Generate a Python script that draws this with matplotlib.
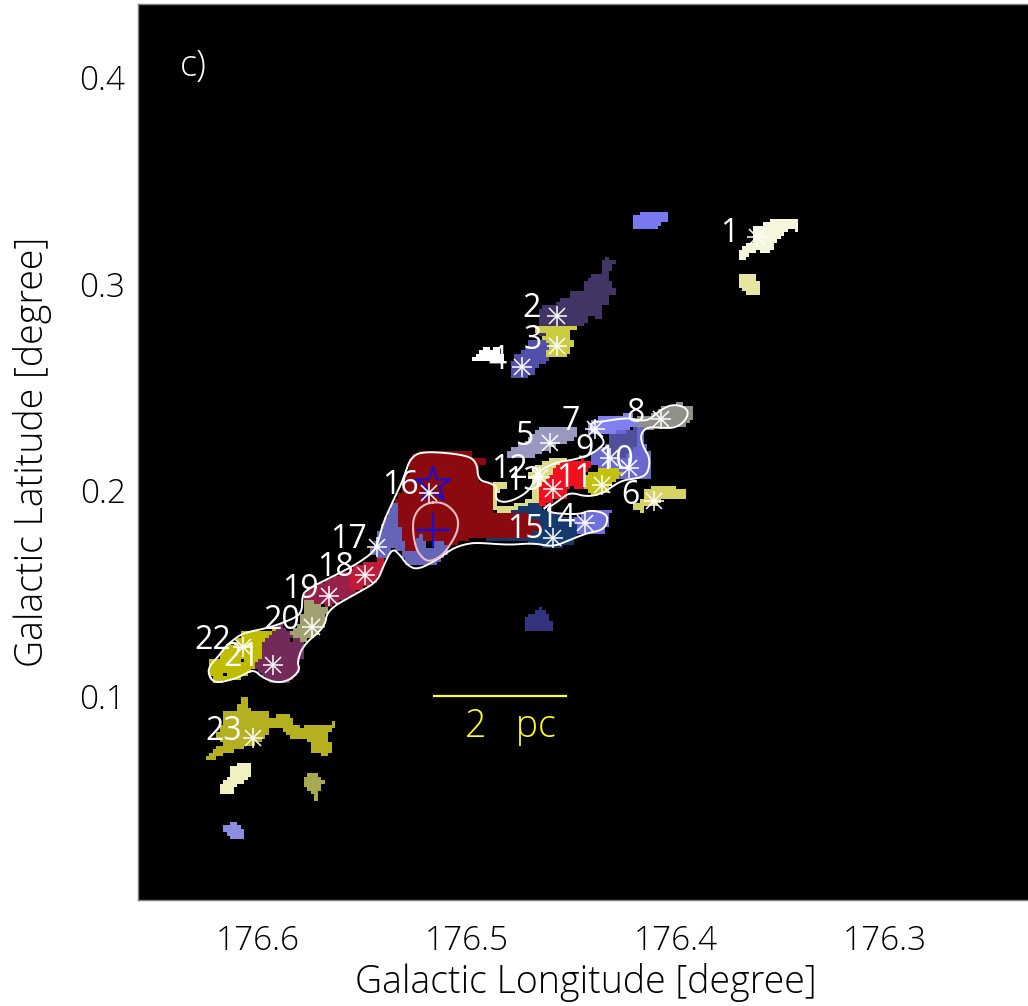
import numpy as np
import matplotlib
matplotlib.use('Agg')
import matplotlib.pyplot as plt
from matplotlib.path import Path

plt.rcParams['font.family'] = ['Open Sans', 'DejaVu Sans']

# ---------- clump outlines, galactic lon / lat in degree ----------
lon_top = [176.4199, 176.4161, 176.4036, 176.4036, 176.4084, 176.4084, 176.4199]
lat_top = [0.3324, 0.3343, 0.3343, 0.3295, 0.3280, 0.3261, 0.3261]

lon_cream1 = [176.3706, 176.3706, 176.3639, 176.3639, 176.3619, 176.3557, 176.3519, 176.3418, 176.3404, 176.3404,
              176.3423, 176.3423, 176.3461, 176.3509, 176.3538, 176.3571, 176.3605, 176.3658, 176.3658]
lat_cream1 = [0.3111, 0.3154, 0.3198, 0.3256, 0.3276, 0.3295, 0.3314, 0.3319, 0.3329, 0.3246,
              0.3246, 0.3261, 0.3256, 0.3213, 0.3159, 0.3145, 0.3159, 0.3130, 0.3111]

lon_pale1 = [176.3706, 176.3619, 176.3619, 176.3605, 176.3605, 176.3672, 176.3672, 176.3686, 176.3706]
lat_pale1 = [0.3043, 0.3043, 0.3009, 0.3004, 0.2941, 0.2941, 0.2955, 0.2975, 0.2980]

lon_c2 = [176.4664, 176.4649, 176.4616, 176.4582, 176.4549, 176.4501, 176.4501, 176.4434, 176.4434, 176.4400,
          176.4367, 176.4347, 176.4347, 176.4328, 176.4285, 176.4300, 176.4300, 176.4323, 176.4323, 176.4300,
          176.4300, 176.4285, 176.4285, 176.4323, 176.4328, 176.4362, 176.4347, 176.4347, 176.4381, 176.4386,
          176.4419, 176.4419, 176.4448, 176.4568, 176.4616, 176.4649]
lat_c2 = [0.2805, 0.2878, 0.2892, 0.2892, 0.2926, 0.2926, 0.2960, 0.2960, 0.3009, 0.3043,
          0.3043, 0.3067, 0.3111, 0.3125, 0.3106, 0.3096, 0.3062, 0.3057, 0.3009, 0.3004,
          0.2980, 0.2975, 0.2941, 0.2936, 0.2897, 0.2883, 0.2858, 0.2825, 0.2825, 0.2844,
          0.2839, 0.2825, 0.2791, 0.2791, 0.2752, 0.2742]

lon_c3 = [176.4664, 176.4472, 176.4472, 176.4501, 176.4501, 176.4482, 176.4482, 176.4501, 176.4501, 176.4520,
          176.4616, 176.4616, 176.4592, 176.4616, 176.4649, 176.4616, 176.4664]
lat_c3 = [0.2791, 0.2791, 0.2776, 0.2766, 0.2723, 0.2718, 0.2694, 0.2689, 0.2664, 0.2645,
          0.2645, 0.2664, 0.2689, 0.2718, 0.2742, 0.2752, 0.2752]

lon_c4 = [176.4649, 176.4616, 176.4592, 176.4616, 176.4616, 176.4597, 176.4664, 176.4664, 176.4731, 176.4779,
          176.4798, 176.4798, 176.4764, 176.4731, 176.4697]
lat_c4 = [0.2723, 0.2718, 0.2689, 0.2664, 0.2640, 0.2631, 0.2592, 0.2572, 0.2538, 0.2538,
          0.2567, 0.2592, 0.2655, 0.2669, 0.2718]

lon_white = [176.4980, 176.4946, 176.4927, 176.4898, 176.4879, 176.4850, 176.4831, 176.4831, 176.4980]
lat_white = [0.2640, 0.2655, 0.2694, 0.2694, 0.2674, 0.2694, 0.2655, 0.2626, 0.2626]

lon_c5 = [176.4812, 176.4731, 176.4649, 176.4482, 176.4467, 176.4491, 176.4553, 176.4640, 176.4683, 176.4807]
lat_c5 = [0.2184, 0.2228, 0.2301, 0.2306, 0.2281, 0.2243, 0.2218, 0.2184, 0.2146, 0.2155]

lon_c6 = [176.4199, 176.4156, 176.4156, 176.4113, 176.4017, 176.3988, 176.3950, 176.3950, 176.4074, 176.4089,
          176.4151, 176.4161, 176.4199]
lat_c6 = [0.1927, 0.1952, 0.1985, 0.2015, 0.2015, 0.2000, 0.2005, 0.1956, 0.1942, 0.1918,
          0.1918, 0.1888, 0.1913]

lon_c8 = [176.4194, 176.4185, 176.4122, 176.4060, 176.4017, 176.3969, 176.3969, 176.3916, 176.3916, 176.3940,
          176.4012, 176.4089, 176.4137, 176.4185]
lat_c8 = [0.2325, 0.2349, 0.2364, 0.2398, 0.2412, 0.2422, 0.2403, 0.2403, 0.2354, 0.2315,
          0.2301, 0.2306, 0.2281, 0.2281]

lon_c7 = [176.4424, 176.4362, 176.4252, 176.4204, 176.4185, 176.4290, 176.4323, 176.4362, 176.4410]
lat_c7 = [0.2325, 0.2349, 0.2364, 0.2369, 0.2306, 0.2281, 0.2267, 0.2276, 0.2267]

lon_c10 = [176.4323, 176.4290, 176.4156, 176.4156, 176.4118, 176.4118, 176.4280, 176.4410, 176.4400, 176.4323]
lat_c10 = [0.2267, 0.2281, 0.2306, 0.2228, 0.2184, 0.2058, 0.2058, 0.2131, 0.2179, 0.2218]

lon_c9 = [176.4323, 176.4232, 176.4185, 176.4180, 176.4232, 176.4323, 176.4323]
lat_c9 = [0.2267, 0.2281, 0.2306, 0.2218, 0.2160, 0.2160, 0.2218]

lon_c12 = [176.4879, 176.4802, 176.4802, 176.4850, 176.4855, 176.4793, 176.4697, 176.4668, 176.4711, 176.4802, 176.4865]
lat_c12 = [0.2039, 0.2039, 0.2015, 0.1985, 0.1927, 0.1918, 0.1956, 0.1932, 0.1918, 0.1888, 0.1888]

lon_c13 = [176.4707, 176.4649, 176.4592, 176.4529, 176.4529, 176.4568, 176.4592, 176.4625, 176.4649, 176.4659,
           176.4697, 176.4683, 176.4697]
lat_c13 = [0.2087, 0.2121, 0.2150, 0.2155, 0.2136, 0.2112, 0.2063, 0.2034, 0.1985, 0.1927,
           0.1952, 0.2015, 0.2058]

lon_c11 = [176.4649, 176.4592, 176.4568, 176.4529, 176.4448, 176.4410, 176.4410, 176.4443, 176.4443, 176.4472,
           176.4496, 176.4520, 176.4520, 176.4553, 176.4616, 176.4649, 176.4664]
lat_c11 = [0.2024, 0.2073, 0.2121, 0.2136, 0.2146, 0.2136, 0.2097, 0.2073, 0.2000, 0.2000,
           0.2015, 0.2000, 0.1956, 0.1956, 0.1927, 0.1913, 0.1966]

lon_oliv = [176.4443, 176.4362, 176.4290, 176.4252, 176.4300, 176.4328, 176.4395, 176.4424]
lat_oliv = [0.2073, 0.2097, 0.2107, 0.2082, 0.2034, 0.1985, 0.1971, 0.1985]

lon_c15 = [176.4802, 176.4711, 176.4649, 176.4640, 176.4482, 176.4472, 176.4491, 176.4568, 176.4697, 176.4711,
           176.4913, 176.4913, 176.4697, 176.4697]
lat_c15 = [0.1888, 0.1927, 0.1927, 0.1903, 0.1864, 0.1782, 0.1743, 0.1714, 0.1733, 0.1753,
           0.1753, 0.1767, 0.1791, 0.1840]

lon_c14 = [176.4482, 176.4424, 176.4304, 176.4300, 176.4323, 176.4323, 176.4338, 176.4333, 176.4472]
lat_c14 = [0.1864, 0.1893, 0.1903, 0.1884, 0.1879, 0.1840, 0.1796, 0.1787, 0.1787]

lon_c16 = [176.5272, 176.5210, 176.5018, 176.4985, 176.4975, 176.4913, 176.4913, 176.4946, 176.4946, 176.4879,
           176.4879, 176.4731, 176.4649, 176.4635, 176.4697, 176.4697, 176.4961, 176.5066, 176.5305, 176.5344,
           176.5344, 176.5310, 176.5272]
lat_c16 = [0.2160, 0.2184, 0.2179, 0.2189, 0.2160, 0.2155, 0.2121, 0.2112, 0.2039, 0.2034,
           0.1888, 0.1888, 0.1840, 0.1806, 0.1791, 0.1767, 0.1767, 0.1733, 0.1694, 0.1806,
           0.1937, 0.2015, 0.2112]

lon_c17 = [176.5353, 176.5329, 176.5329, 176.5305, 176.5296, 176.5248, 176.5248, 176.5210, 176.5200, 176.5157,
           176.5128, 176.5095, 176.5095, 176.5143, 176.5281, 176.5320, 176.5358, 176.5382, 176.5464, 176.5416]
lat_c17 = [0.1937, 0.1937, 0.1840, 0.1772, 0.1694, 0.1694, 0.1767, 0.1787, 0.1753, 0.1753,
           0.1748, 0.1733, 0.1694, 0.1641, 0.1627, 0.1694, 0.1719, 0.1661, 0.1685, 0.1806]

lon_c18 = [176.5559, 176.5511, 176.5392, 176.5401, 176.5430, 176.5526, 176.5559]
lat_c18 = [0.1622, 0.1636, 0.1670, 0.1622, 0.1554, 0.1505, 0.1525]

lon_c19 = [176.5775, 176.5737, 176.5559, 176.5559, 176.5526, 176.5641, 176.5669, 176.5784]
lat_c19 = [0.1500, 0.1530, 0.1612, 0.1525, 0.1505, 0.1442, 0.1433, 0.1476]

lon_c20 = [176.5775, 176.5751, 176.5669, 176.5679, 176.5737, 176.5784, 176.5847, 176.5799]
lat_c20 = [0.1467, 0.1467, 0.1428, 0.1336, 0.1287, 0.1258, 0.1297, 0.1355]

lon_c21 = [176.5909, 176.5847, 176.5784, 176.5775, 176.5813, 176.5799, 176.5856, 176.5943, 176.6024, 176.5990,
           176.5990, 176.5943]
lat_c21 = [0.1355, 0.1306, 0.1258, 0.1185, 0.1161, 0.1112, 0.1069, 0.1069, 0.1137, 0.1190,
           0.1258, 0.1306]

lon_c22 = [176.6072, 176.5943, 176.5909, 176.5909, 176.5943, 176.5986, 176.5986, 176.6024, 176.6038, 176.6086,
           176.6168, 176.6216, 176.6240, 176.6240, 176.6192, 176.6158, 176.6120]
lat_c22 = [0.1311, 0.1311, 0.1345, 0.1321, 0.1302, 0.1258, 0.1195, 0.1137, 0.1112, 0.1088,
           0.1069, 0.1069, 0.1112, 0.1176, 0.1185, 0.1239, 0.1239]

lon_c23 = [176.6254, 176.6196, 176.6158, 176.6206, 176.6168, 176.6168, 176.6101, 176.6086, 176.6062, 176.6038,
           176.5957, 176.5957, 176.5909, 176.5909, 176.5847, 176.5837, 176.5789, 176.5760, 176.5665, 176.5641,
           176.5626, 176.5665, 176.5669, 176.5641, 176.5641, 176.5665, 176.5665, 176.5693, 176.5693, 176.5741,
           176.5741, 176.5789, 176.5856, 176.5895, 176.5943, 176.5957, 176.6005, 176.6072, 176.6168, 176.6196]
lat_c23 = [0.0700, 0.0754, 0.0773, 0.0802, 0.0884, 0.0918, 0.0933, 0.0981, 0.0996, 0.0933,
           0.0923, 0.0884, 0.0894, 0.0914, 0.0914, 0.0875, 0.0846, 0.0860, 0.0860, 0.0875,
           0.0850, 0.0826, 0.0778, 0.0763, 0.0729, 0.0729, 0.0705, 0.0705, 0.0729, 0.0729,
           0.0778, 0.0797, 0.0802, 0.0846, 0.0836, 0.0802, 0.0773, 0.0749, 0.0715, 0.0700]

lon_cream2 = [176.6187, 176.6187, 176.6144, 176.6125, 176.6086, 176.6038, 176.6038, 176.6024, 176.6072, 176.6125, 176.6125]
lat_cream2 = [0.0530, 0.0560, 0.0603, 0.0652, 0.0676, 0.0676, 0.0642, 0.0637, 0.0579, 0.0555, 0.0530]

lon_drop = [176.5789, 176.5775, 176.5741, 176.5713, 176.5693, 176.5674, 176.5693, 176.5713, 176.5713, 176.5727,
            176.5741, 176.5765, 176.5789]
lat_drop = [0.0593, 0.0608, 0.0627, 0.0627, 0.0593, 0.0589, 0.0569, 0.0535, 0.0492, 0.0492,
            0.0521, 0.0545, 0.0569]

lon_peri = [176.6172, 176.6139, 176.6139, 176.6105, 176.6105, 176.6072, 176.6072, 176.6139, 176.6139, 176.6172]
lat_peri = [0.0375, 0.0375, 0.0395, 0.0395, 0.0375, 0.0361, 0.0307, 0.0307, 0.0327, 0.0341]

lon_patch = [176.4731, 176.4721, 176.4673, 176.4649, 176.4625, 176.4592, 176.4592]
lat_patch = [0.1321, 0.1379, 0.1408, 0.1437, 0.1408, 0.1360, 0.1321]

# holes in the mask
lon_hole1 = [176.5190, 176.5162, 176.5162, 176.5190]
lat_hole1 = [0.1748, 0.1748, 0.1719, 0.1719]
lon_hole2 = [176.6172, 176.6144, 176.6144, 176.6172]
lat_hole2 = [0.1117, 0.1117, 0.1093, 0.1093]
lon_hole3 = [176.6086, 176.6072, 176.6072, 176.6086]
lat_hole3 = [0.1185, 0.1185, 0.1166, 0.1166]
lon_hole4 = [176.5856, 176.5837, 176.5837, 176.5856]
lat_hole4 = [0.1282, 0.1282, 0.1263, 0.1263]

# ---------- contours ----------
lon_outer = [176.6216, 176.6240, 176.6230, 176.6192, 176.6158, 176.6120, 176.6072, 176.5976, 176.5909, 176.5813,
             176.5789, 176.5789, 176.5775, 176.5559, 176.5478, 176.5440, 176.5425, 176.5401, 176.5358, 176.5305,
             176.5272, 176.5210, 176.4999, 176.4951, 176.4946, 176.4889, 176.4855, 176.4865, 176.4807, 176.4711,
             176.4673, 176.4649, 176.4568, 176.4491, 176.4410, 176.4362, 176.4338, 176.4371, 176.4410, 176.4400,
             176.4362, 176.4280, 176.4218, 176.4137, 176.4074, 176.4012, 176.3945, 176.3940, 176.3993, 176.4074,
             176.4137, 176.4170, 176.4156, 176.4122, 176.4132, 176.4170, 176.4252, 176.4314, 176.4347, 176.4424,
             176.4506, 176.4553, 176.4640, 176.4467, 176.4410, 176.4338, 176.4323, 176.4347, 176.4424, 176.4506,
             176.4587, 176.4683, 176.4793, 176.4922, 176.4985, 176.5066, 176.5143, 176.5238, 176.5286, 176.5320,
             176.5358, 176.5401, 176.5430, 176.5526, 176.5669, 176.5679, 176.5784, 176.5813, 176.5799, 176.5847,
             176.5909, 176.5976, 176.6024, 176.6086, 176.6168]
lat_outer = [0.1069, 0.1112, 0.1151, 0.1190, 0.1239, 0.1272, 0.1306, 0.1326, 0.1345, 0.1384,
             0.1418, 0.1476, 0.1515, 0.1622, 0.1675, 0.1709, 0.1748, 0.1840, 0.1937, 0.2049,
             0.2155, 0.2189, 0.2170, 0.2131, 0.2049, 0.2034, 0.2015, 0.1952, 0.1937, 0.1985,
             0.2049, 0.2097, 0.2136, 0.2146, 0.2170, 0.2204, 0.2233, 0.2276, 0.2291, 0.2330,
             0.2330, 0.2344, 0.2349, 0.2330, 0.2388, 0.2417, 0.2398, 0.2354, 0.2301, 0.2301,
             0.2306, 0.2267, 0.2209, 0.2155, 0.2082, 0.2058, 0.2049, 0.2010, 0.1985, 0.1966,
             0.1990, 0.1952, 0.1893, 0.1879, 0.1903, 0.1888, 0.1854, 0.1806, 0.1791, 0.1758,
             0.1724, 0.1743, 0.1733, 0.1743, 0.1743, 0.1719, 0.1661, 0.1612, 0.1636, 0.1685,
             0.1719, 0.1627, 0.1554, 0.1500, 0.1418, 0.1336, 0.1248, 0.1166, 0.1127, 0.1078,
             0.1064, 0.1088, 0.1132, 0.1093, 0.1069]

lon_inner = [176.5190, 176.5128, 176.5080, 176.5042, 176.5042, 176.5071, 176.5114, 176.5176, 176.5214, 176.5248, 176.5262, 176.5238]
lat_inner = [0.1937, 0.1942, 0.1918, 0.1869, 0.1806, 0.1748, 0.1685, 0.1651, 0.1670, 0.1724, 0.1840, 0.1903]

# ---------- cores and labels ----------
core_id = ['1', '2', '3', '4', '5', '6', '7', '8', '9', '10', '11', '12',
           '13', '14', '15', '16', '17', '18', '19', '20', '21', '22', '23']
core_lon = [176.3610, 176.4568, 176.4568, 176.4735, 176.4601, 176.4103, 176.4386, 176.4070, 176.4314, 176.4223, 176.4352, 176.4649,
            176.4587, 176.4434, 176.4587, 176.5181, 176.5430, 176.5487, 176.5660, 176.5741, 176.5928, 176.6072, 176.6024]
core_lat = [0.3227, 0.2844, 0.2698, 0.2597, 0.2228, 0.1947, 0.2296, 0.2344, 0.2155, 0.2107, 0.2024, 0.2063,
            0.2005, 0.1840, 0.1767, 0.1985, 0.1724, 0.1588, 0.1486, 0.1336, 0.1151, 0.1239, 0.0797]
label_lon = [176.3744, 176.4688, 176.4683, 176.4855, 176.4721, 176.4218, 176.4501, 176.4194, 176.4438, 176.4290, 176.4482, 176.4798,
             176.4731, 176.4568, 176.4721, 176.5320, 176.5569, 176.5631, 176.5799, 176.5885, 176.6077, 176.6216, 176.6163]
label_lat = [0.3242, 0.2878, 0.2723, 0.2626, 0.2257, 0.1971, 0.2330, 0.2373, 0.2194, 0.2141, 0.2058, 0.2097,
             0.2039, 0.1864, 0.1806, 0.2024, 0.1758, 0.1622, 0.1515, 0.1365, 0.1190, 0.1268, 0.0831]

x_ticks = [176.6, 176.5, 176.4, 176.3]
y_ticks = [0.1, 0.2, 0.3, 0.4]

# paint order: later layers cover earlier ones
layers = [
    (lon_top, lat_top, '#7878f0'), (lon_cream1, lat_cream1, '#f6f6dc'), (lon_pale1, lat_pale1, '#e6e6a0'),
    (lon_c2, lat_c2, '#423566'), (lon_c3, lat_c3, '#cccc44'), (lon_c4, lat_c4, '#5050a8'),
    (lon_white, lat_white, '#ffffff'), (lon_c5, lat_c5, '#9898c0'), (lon_c6, lat_c6, '#d6d264'),
    (lon_c8, lat_c8, '#909088'), (lon_c7, lat_c7, '#8080f0'), (lon_c10, lat_c10, '#6868d0'),
    (lon_c9, lat_c9, '#4f4f9c'), (lon_c12, lat_c12, '#dcdc88'), (lon_c13, lat_c13, '#dcdc88'),
    (lon_c11, lat_c11, '#f01020'), (lon_oliv, lat_oliv, '#c4c010'), (lon_c15, lat_c15, '#143a70'),
    (lon_c14, lat_c14, '#7070dc'), (lon_c16, lat_c16, '#8b0a10'), (lon_c17, lat_c17, '#6464b8'),
    (lon_c18, lat_c18, '#c01a38'), (lon_c19, lat_c19, '#96204a'), (lon_c20, lat_c20, '#a0a070'),
    (lon_c21, lat_c21, '#722a58'), (lon_c22, lat_c22, '#c0bc00'), (lon_c23, lat_c23, '#b4b020'),
    (lon_cream2, lat_cream2, '#f0f0c0'), (lon_drop, lat_drop, '#a8a850'), (lon_peri, lat_peri, '#8c8ce0'),
    (lon_patch, lat_patch, '#34347e'), (lon_hole1, lat_hole1, '#000000'), (lon_hole2, lat_hole2, '#000000'),
    (lon_hole3, lat_hole3, '#000000'), (lon_hole4, lat_hole4, '#000000'),
]

xlim = (176.6575, 176.2312)
ylim = (0.00115, 0.4357)

# ---------- mask on the map grid ----------
cell = 0.00168
grid_lon = np.arange(xlim[1], xlim[0] + cell, cell)
grid_lat = np.arange(ylim[0], ylim[1] + cell, cell)
glon, glat = np.meshgrid(grid_lon, grid_lat)
pts = np.column_stack([glon.ravel(), glat.ravel()])
img = np.zeros(glon.shape + (3,))
for lon, lat, col in layers:
    inside = Path(np.column_stack([lon, lat])).contains_points(pts).reshape(glon.shape)
    img[inside] = matplotlib.colors.to_rgb(col)


def smooth(lon, lat, n=3):
    # corner cutting on a closed line
    p = np.column_stack([lon, lat])
    for _ in range(n):
        q = np.roll(p, -1, axis=0)
        p = np.column_stack([0.75 * p + 0.25 * q, 0.25 * p + 0.75 * q]).reshape(-1, 2)
    return np.vstack([p, p[:1]])


# ---------- plot ----------
fig = plt.figure(figsize=(10.28, 10.06), dpi=100)
ax = fig.add_axes([138 / 1028, 106 / 1006, 890 / 1028, 896 / 1006])
ax.set_facecolor('black')
ax.imshow(img, origin='lower', interpolation='nearest', aspect='auto',
          extent=[grid_lon[0] - cell / 2, grid_lon[-1] + cell / 2, grid_lat[0] - cell / 2, grid_lat[-1] + cell / 2])

p = smooth(lon_outer, lat_outer)
ax.plot(p[:, 0], p[:, 1], color='white', lw=1.4)
p = smooth(lon_inner, lat_inner)
ax.plot(p[:, 0], p[:, 1], color='#f4bcc8', lw=1.5)

# sources in blue
ax.scatter([176.5162], [0.2024], marker='*', s=680, facecolors='none', edgecolors='#1010e0', linewidths=1.5, zorder=4)
ax.plot([176.5162], [0.1806], marker='+', ms=25, mew=1.6, color='#1010e0', ls='none', zorder=4)

ax.plot(core_lon, core_lat, ls='none', marker='+', ms=14, mew=1.1, color='white', zorder=5)
ax.plot(core_lon, core_lat, ls='none', marker='x', ms=11, mew=1.1, color='white', zorder=5)
for s, lo, la in zip(core_id, label_lon, label_lat):
    ax.text(lo, la, s, color='white', fontsize=23, fontweight='medium', ha='center', va='center', zorder=6)

ax.plot([176.5155, 176.4526], [0.100, 0.100], color='#ffff20', lw=1.6)
ax.text(176.4793, 0.0851, '2   pc', color='#ffff20', fontsize=27, fontweight='light', ha='center', va='center')
ax.text(176.6312, 0.4052, 'c)', color='white', fontsize=26, fontweight='light', ha='center', va='center')

ax.set_xlim(xlim)
ax.set_ylim(ylim)
ax.set_xticks(x_ticks)
ax.set_yticks(y_ticks)
ax.set_xticklabels(['%.1f' % v for v in x_ticks], fontsize=24, fontweight='light')
ax.set_yticklabels(['%.1f' % v for v in y_ticks], fontsize=24, fontweight='light')
ax.tick_params(length=0)
ax.tick_params(axis='x', pad=18)
ax.tick_params(axis='y', pad=9)
ax.spines['right'].set_visible(False)
for sp in ['left', 'top', 'bottom']:
    ax.spines[sp].set_color('#808080')
    ax.spines[sp].set_linewidth(1)
fig.text(586 / 1028, 1 - 983 / 1006, 'Galactic Longitude [degree]', fontsize=27, fontweight='light', ha='center', va='center')
fig.text(33 / 1028, 1 - 452 / 1006, 'Galactic Latitude [degree]', fontsize=27, fontweight='light', ha='center', va='center', rotation=90)

fig.savefig('out.png', dpi=100)
